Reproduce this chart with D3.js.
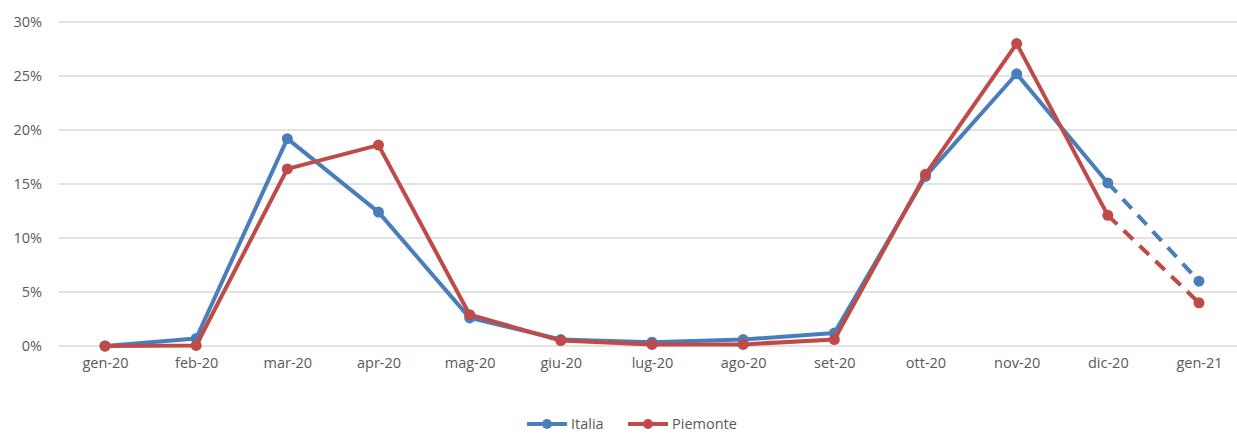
<!DOCTYPE html>
<html><head><meta charset="utf-8">
<script src="https://cdn.jsdelivr.net/npm/d3@7"></script>
<style>body{margin:0;background:#fff}svg{display:block;font-family:"Open Sans",sans-serif}</style>
</head><body><svg id="c" width="1237" height="434"></svg>
<script>
const categories = ["gen-20","feb-20","mar-20","apr-20","mag-20","giu-20","lug-20","ago-20","set-20","ott-20","nov-20","dic-20","gen-21"];
const italia = [0, 0.7, 19.2, 12.4, 2.6, 0.6, 0.35, 0.6, 1.2, 15.7, 25.2, 15.1, 6.0];
const piemonte = [0, 0.05, 16.4, 18.6, 2.9, 0.5, 0.15, 0.15, 0.6, 15.9, 28.0, 12.1, 4.0];
const yTicks = [0, 5, 10, 15, 20, 25, 30];
const seriesNames = ["Italia", "Piemonte"];
const colors = ["#4A7EBB", "#BE4B48"];

const svg = d3.select("#c");
const x = d3.scalePoint().domain(categories).range([105, 1199]);
const y = d3.scaleLinear().domain([0, 30]).range([346, 22]);

svg.append("g").selectAll("line").data(yTicks).join("line")
  .attr("x1", 59).attr("x2", 1237)
  .attr("y1", d => y(d)).attr("y2", d => y(d))
  .attr("stroke", "#d9d9d9").attr("stroke-width", 1.5);

const yAxis = d3.axisLeft(y).tickValues(yTicks).tickFormat(d => d + "%").tickSize(0).tickPadding(0);
const ga = svg.append("g").attr("transform", "translate(42,0)").call(yAxis);
ga.select(".domain").remove();
ga.selectAll("text").attr("fill", "#595959").style("font-size", "14.5px").style("font-family", "'Open Sans',sans-serif");

const xAxis = d3.axisBottom(x).tickSize(0).tickPadding(0);
const gx = svg.append("g").attr("transform", "translate(0,358)").call(xAxis);
gx.select(".domain").remove();
gx.selectAll("text").attr("fill", "#595959").style("font-size", "14.5px").style("font-family", "'Open Sans',sans-serif");

const data = [italia, piemonte];
data.forEach((vals, s) => {
  const g = svg.append("g");
  const n = vals.length;
  const solid = vals.map((v, i) => i < n - 1 ? v : null);
  g.append("path").attr("d", d3.line().defined(d => d !== null).x((d, i) => x(categories[i])).y(d => y(d))(solid))
    .attr("fill", "none").attr("stroke", colors[s]).attr("stroke-width", 4).attr("stroke-linejoin", "round");
  g.append("line")
    .attr("x1", x(categories[n - 2])).attr("y1", y(vals[n - 2]))
    .attr("x2", x(categories[n - 1])).attr("y2", y(vals[n - 1]))
    .attr("stroke", colors[s]).attr("stroke-width", 4).attr("stroke-dasharray", "13,9");
  g.selectAll("circle").data(vals).join("circle")
    .attr("cx", (d, i) => x(categories[i])).attr("cy", d => y(d)).attr("r", 5.5)
    .attr("fill", colors[s]);
});

const legendX = [527, 628];
seriesNames.forEach((name, s) => {
  const g = svg.append("g").attr("transform", `translate(${legendX[s]},424)`);
  g.append("line").attr("x1", 0).attr("x2", 40).attr("y1", 0).attr("y2", 0)
    .attr("stroke", colors[s]).attr("stroke-width", 4);
  g.append("circle").attr("cx", 20).attr("cy", 0).attr("r", 5).attr("fill", colors[s]);
  g.append("text").attr("x", 44).attr("y", 5).text(name)
    .attr("fill", "#595959").style("font-size", "14.5px");
});
</script></body></html>
